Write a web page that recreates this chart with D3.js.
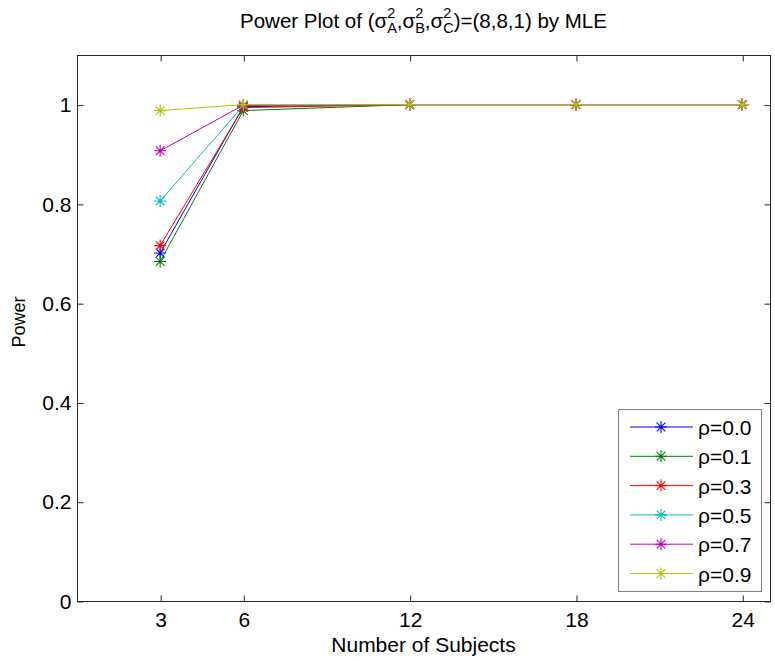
<!DOCTYPE html>
<html lang="en">
<head>
  <meta charset="UTF-8" />
  <title>Power Plot</title>
  <script src="https://cdnjs.cloudflare.com/ajax/libs/d3/7.8.5/d3.min.js"></script>
  <style>
    body { margin: 0; background: #fff; }
    text { font-family: "Liberation Sans", Arial, sans-serif; fill: #000; }
  </style>
</head>
<body>
  <svg width="775" height="661"></svg>

  <script>
    // data
    const subjects = [3, 6, 12, 18, 24];
    const xTicks = [3, 6, 12, 18, 24];
    const yTicks = [0, 0.2, 0.4, 0.6, 0.8, 1];
    const rhoLabels = ['ρ=0.0', 'ρ=0.1', 'ρ=0.3', 'ρ=0.5', 'ρ=0.7', 'ρ=0.9'];
    const power00 = [0.701, 0.996, 1, 1, 1];
    const power01 = [0.684, 0.988, 1, 1, 1];
    const power03 = [0.716, 0.994, 1, 1, 1];
    const power05 = [0.806, 0.998, 1, 1, 1];
    const power07 = [0.907, 0.999, 1, 1, 1];
    const power09 = [0.988, 1, 1, 1, 1];
    const seriesValues = [power00, power01, power03, power05, power07, power09];
    const colors = ['#0000ff', '#008000', '#ff0000', '#00bfbf', '#bf00bf', '#bfbf00'];

    const svg = d3.select('svg');
    const margin = { left: 77, right: 5, top: 55, bottom: 60 };
    const width = +svg.attr('width');
    const height = +svg.attr('height');
    const x0 = margin.left, x1 = width - margin.right;
    const y0 = margin.top, y1 = height - margin.bottom;

    const x = d3.scaleLinear().domain([0, 25]).range([x0, x1]);
    const y = d3.scaleLinear().domain([0, 1.1]).range([y1, y0]);

    // axes box
    svg.append('rect')
      .attr('x', x0 + 0.5).attr('y', y0 + 0.5)
      .attr('width', x1 - x0).attr('height', y1 - y0)
      .attr('fill', 'none').attr('stroke', '#262626');

    const fmt = (d) => String(+d.toFixed(1));

    const bottomAxis = svg.append('g')
      .attr('transform', `translate(0.5,${y1 + 0.5})`)
      .call(d3.axisBottom(x).tickValues(xTicks).tickSizeInner(-6).tickSizeOuter(0).tickPadding(11));
    const topAxis = svg.append('g')
      .attr('transform', `translate(0.5,${y0 + 0.5})`)
      .call(d3.axisTop(x).tickValues(xTicks).tickSizeInner(-6).tickSizeOuter(0).tickFormat(''));
    const leftAxis = svg.append('g')
      .attr('transform', `translate(${x0 + 0.5},0.5)`)
      .call(d3.axisLeft(y).tickValues(yTicks).tickSizeInner(-6).tickSizeOuter(0).tickPadding(6).tickFormat(fmt));
    const rightAxis = svg.append('g')
      .attr('transform', `translate(${x1 + 0.5},0.5)`)
      .call(d3.axisRight(y).tickValues(yTicks).tickSizeInner(-6).tickSizeOuter(0).tickFormat(''));

    [bottomAxis, topAxis, leftAxis, rightAxis].forEach((g) => {
      g.select('.domain').remove();
      g.selectAll('line').attr('stroke', '#262626');
      g.selectAll('text')
        .style('font-family', '"Liberation Sans", Arial, sans-serif')
        .style('font-size', '21px')
        .attr('fill', '#000');
    });

    // lines and markers
    const line = d3.line().x((d, i) => x(subjects[i])).y((d) => y(d));

    function star(sel, size) {
      const a = size, b = size * 0.72;
      sel.append('path')
        .attr('d', `M${-a},0H${a}M0,${-a}V${a}M${-b},${-b}L${b},${b}M${-b},${b}L${b},${-b}`);
    }

    seriesValues.forEach((vals, k) => {
      const g = svg.append('g').attr('class', 'series');
      g.append('path')
        .datum(vals)
        .attr('d', line)
        .attr('fill', 'none')
        .attr('stroke', colors[k])
        .attr('stroke-width', 1);
      g.selectAll('g.mk')
        .data(vals)
        .enter()
        .append('g')
        .attr('class', 'mk')
        .attr('transform', (d, i) => `translate(${x(subjects[i])},${y(d)})`)
        .attr('stroke', colors[k])
        .attr('stroke-width', 1.1)
        .attr('fill', 'none')
        .call((s) => star(s, 6));
    });

    // legend
    const legend = svg.append('g').attr('transform', 'translate(618,409)');
    legend.append('rect')
      .attr('x', 0.5).attr('y', 0.5)
      .attr('width', 143).attr('height', 182)
      .attr('fill', '#fff').attr('stroke', '#7f7f7f');
    rhoLabels.forEach((lab, k) => {
      const yy = 18 + k * 29.3;
      legend.append('line')
        .attr('x1', 12).attr('x2', 75).attr('y1', yy).attr('y2', yy)
        .attr('stroke', colors[k]).attr('stroke-width', 1);
      legend.append('g')
        .attr('transform', `translate(43,${yy})`)
        .attr('stroke', colors[k]).attr('stroke-width', 1.1).attr('fill', 'none')
        .call((s) => star(s, 6));
      legend.append('text')
        .attr('x', 80).attr('y', yy + 8)
        .style('font-size', '21px')
        .text(lab);
    });

    // axis labels
    svg.append('text')
      .attr('x', (x0 + x1) / 2).attr('y', 652)
      .attr('text-anchor', 'middle')
      .style('font-size', '21px')
      .text('Number of Subjects');
    svg.append('text')
      .attr('transform', `translate(25,322) rotate(-90)`)
      .attr('text-anchor', 'middle')
      .style('font-size', '18px')
      .text('Power');

    // title with stacked super/subscripts
    const title = svg.append('g');
    let cursor = 0;
    const base = 28;
    function piece(txt, size, dy) {
      const t = title.append('text')
        .attr('x', cursor).attr('y', base + dy)
        .style('font-size', size + 'px')
        .text(txt);
      return t.node().getComputedTextLength();
    }
    function sigma(sub) {
      cursor += piece('σ', 20.5, 0);
      const w1 = piece('2', 14.5, -10);
      const w2 = piece(sub, 14.5, 5);
      cursor += Math.max(w1, w2);
    }
    cursor += piece('Power Plot of (', 20.5, 0);
    sigma('A');
    cursor += piece(',', 20.5, 0);
    sigma('B');
    cursor += piece(',', 20.5, 0);
    sigma('C');
    cursor += piece(')=(8,8,1) by MLE', 20.5, 0);
    title.attr('transform', `translate(${(x0 + x1) / 2 - cursor / 2},0)`);
  </script>
</body>
</html>
